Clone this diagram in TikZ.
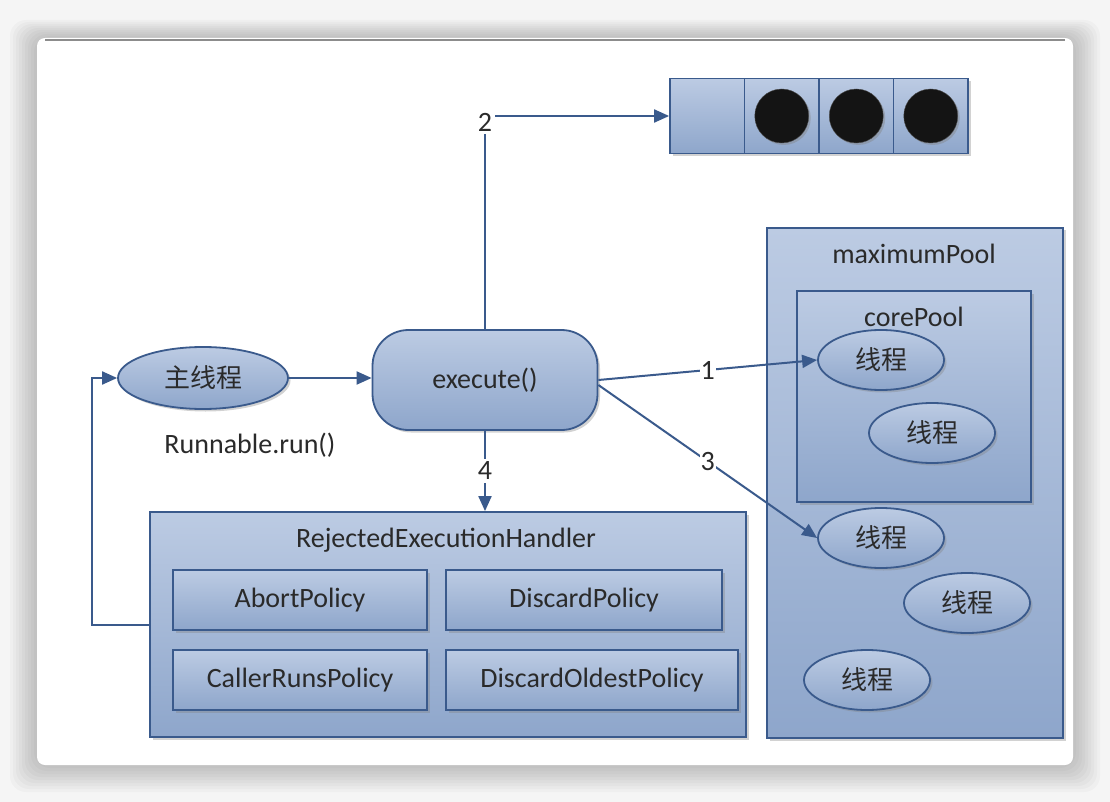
\documentclass[tikz,border=0pt]{standalone}
\usepackage{fontspec}
\setmainfont{Carlito}
\newfontfamily\cjk{Noto Sans CJK SC}
\usepackage{xcolor}
\usetikzlibrary{arrows.meta,positioning,shapes.geometric,shadows}

\definecolor{boxline}{HTML}{3A5A8C}
\definecolor{boxtop}{HTML}{BCCBE3}
\definecolor{boxbot}{HTML}{8EA6CB}
\definecolor{txt}{HTML}{2A2A2A}

\tikzset{
  pane/.style={draw=boxline, line width=1.8pt, top color=boxtop, bottom color=boxbot,
    text=txt, drop shadow={shadow xshift=2.5pt, shadow yshift=-2.5pt, opacity=.35}},
  box/.style={pane, rectangle, inner sep=0pt},
  thread/.style={pane, ellipse, minimum width=126pt, minimum height=60pt, inner sep=0pt,
    font=\cjk\fontsize{26}{30}\selectfont},
  dot/.style={circle, fill=black!92, draw=black!70, minimum size=54pt, inner sep=0pt,
    drop shadow={shadow xshift=2pt, shadow yshift=-2pt, opacity=.4}},
  title/.style={text=txt, inner sep=0pt},
  num/.style={fill=white, inner sep=3pt, text=txt},
  flow/.style={draw=boxline, line width=2pt, -{Triangle[length=15pt,width=13pt]}}
}

\begin{document}
\begin{tikzpicture}[x=1pt,y=-1pt,font=\fontsize{28}{32}\selectfont]
  \useasboundingbox (0,0) rectangle (1110,802);
  % card
  \fill[black!4] (0,0) rectangle (1110,802);
  \foreach \i in {1,...,9}{
    \fill[black,opacity=.022,rounded corners=16pt] (37-3*\i,38-2*\i) rectangle (1073+3*\i,765+3*\i);
  }
  \fill[white,rounded corners=8pt] (37,38) rectangle (1073,765);
  \draw[black!45,line width=1.5pt] (45,40) -- (1065,40);

  % queue
  \foreach \n/\x in {0/707.25,1/781.75,2/856.25,3/930.75}{
    \node[box,minimum width=74.5pt,minimum height=75pt] (q\n) at (\x,116) {};
  }
  \foreach \n in {1,2,3}{\node[dot] (d\n) at (q\n) {};}

  % caller side
  \node[pane,ellipse,minimum width=170pt,minimum height=62pt,inner sep=0pt,
    font=\cjk\fontsize{26}{30}\selectfont] (main) at (203,378) {主线程};
  \node[title] (runlbl) at (250,445) {Runnable.run()};
  \node[box,rounded corners=36pt,minimum width=225pt,minimum height=100pt] (exec) at (485,380) {execute()};

  % rejection handler
  \node[box,minimum width=596pt,minimum height=225pt] (handler) at (448,624.5) {};
  \node[title] (htitle) at (446,540) {RejectedExecutionHandler};
  \node[box,minimum width=254pt,minimum height=60pt] (abort) at (300,600) {AbortPolicy};
  \node[box,minimum width=276pt,minimum height=60pt] (discard) at (584,600) {DiscardPolicy};
  \node[box,minimum width=254pt,minimum height=60pt] (caller) at (300,680) {CallerRunsPolicy};
  \node[box,minimum width=292pt,minimum height=60pt] (oldest) at (592,680) {DiscardOldestPolicy};

  % pools
  \node[box,minimum width=296pt,minimum height=510pt] (maxpool) at (915,483) {};
  \node[title] (maxlbl) at (914,254) {maximumPool};
  \node[box,minimum width=234pt,minimum height=211pt] (corepool) at (914,396.5) {};
  \node[title] (corelbl) at (914,317) {corePool};
  \node[thread] (t1) at (881,360) {线程};
  \node[thread] (t2) at (932,433) {线程};
  \node[thread] (t3) at (881,538) {线程};
  \node[thread] (t4) at (967,603) {线程};
  \node[thread] (t5) at (867,680) {线程};

  % connectors
  \coordinate (turn) at (92,378);
  \draw[flow] (main.east) -- (exec.west |- main.east);
  \draw[flow] (exec.north) |- node[num,pos=.485]{2} (q0.west);
  \draw[flow] (exec.east) -- node[num,inner sep=1pt]{1} (t1.west);
  \draw[flow] ([yshift=-5pt]exec.east) -- node[num,inner sep=1pt]{3} (t3.west);
  \draw[flow] (exec.south) -- node[num]{4} (exec.south |- handler.north);
  \draw[flow] (handler.west) -| (turn) -- (main.west);
\end{tikzpicture}
\end{document}
